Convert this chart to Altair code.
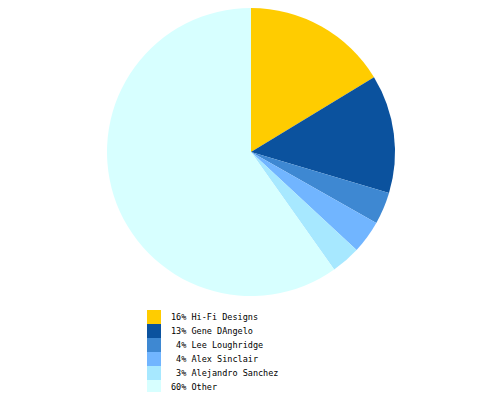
import altair as alt
import pandas as pd

names = ["Hi-Fi Designs", "Gene DAngelo", "Lee Loughridge", "Alex Sinclair", "Alejandro Sanchez", "Other"]
values = [16.3, 13.3, 3.6, 3.7, 3.3, 59.8]
pct_labels = ["16%", "13%", "4%", "4%", "3%", "60%"]
colors = ["#FFCC00", "#0B529E", "#3E88D2", "#71B5FF", "#A7E8FF", "#D7FFFF"]

# zero-width space keeps Vega from trimming the leading figure space
labels = ["\u200b" + p.rjust(3).replace(" ", "\u2007") + "\u2007" + n for p, n in zip(pct_labels, names)]
df = pd.DataFrame({"label": labels, "value": values, "idx": list(range(len(names)))})

chart = alt.Chart(df).mark_arc(outerRadius=144, stroke=None).encode(
    theta=alt.Theta("value:Q", stack=True),
    order=alt.Order("idx:O"),
    x=alt.value(243),
    y=alt.value(144),
    color=alt.Color(
        "label:N",
        sort=labels,
        scale=alt.Scale(domain=labels, range=colors),
        legend=alt.Legend(
            title=None,
            orient="none",
            legendX=139,
            legendY=302,
            symbolType="square",
            symbolSize=196,
            symbolStrokeWidth=0,
            symbolOpacity=1,
            rowPadding=0,
            labelFont="DejaVu Sans Mono",
            labelFontSize=8.5,
            labelColor="#000000",
            labelOffset=10,
            padding=0,
        ),
    ),
).properties(width=484, height=384, padding=0, autosize="none").configure_view(stroke=None)

chart.save("out.html", embed_options={"renderer": "svg", "actions": False})
